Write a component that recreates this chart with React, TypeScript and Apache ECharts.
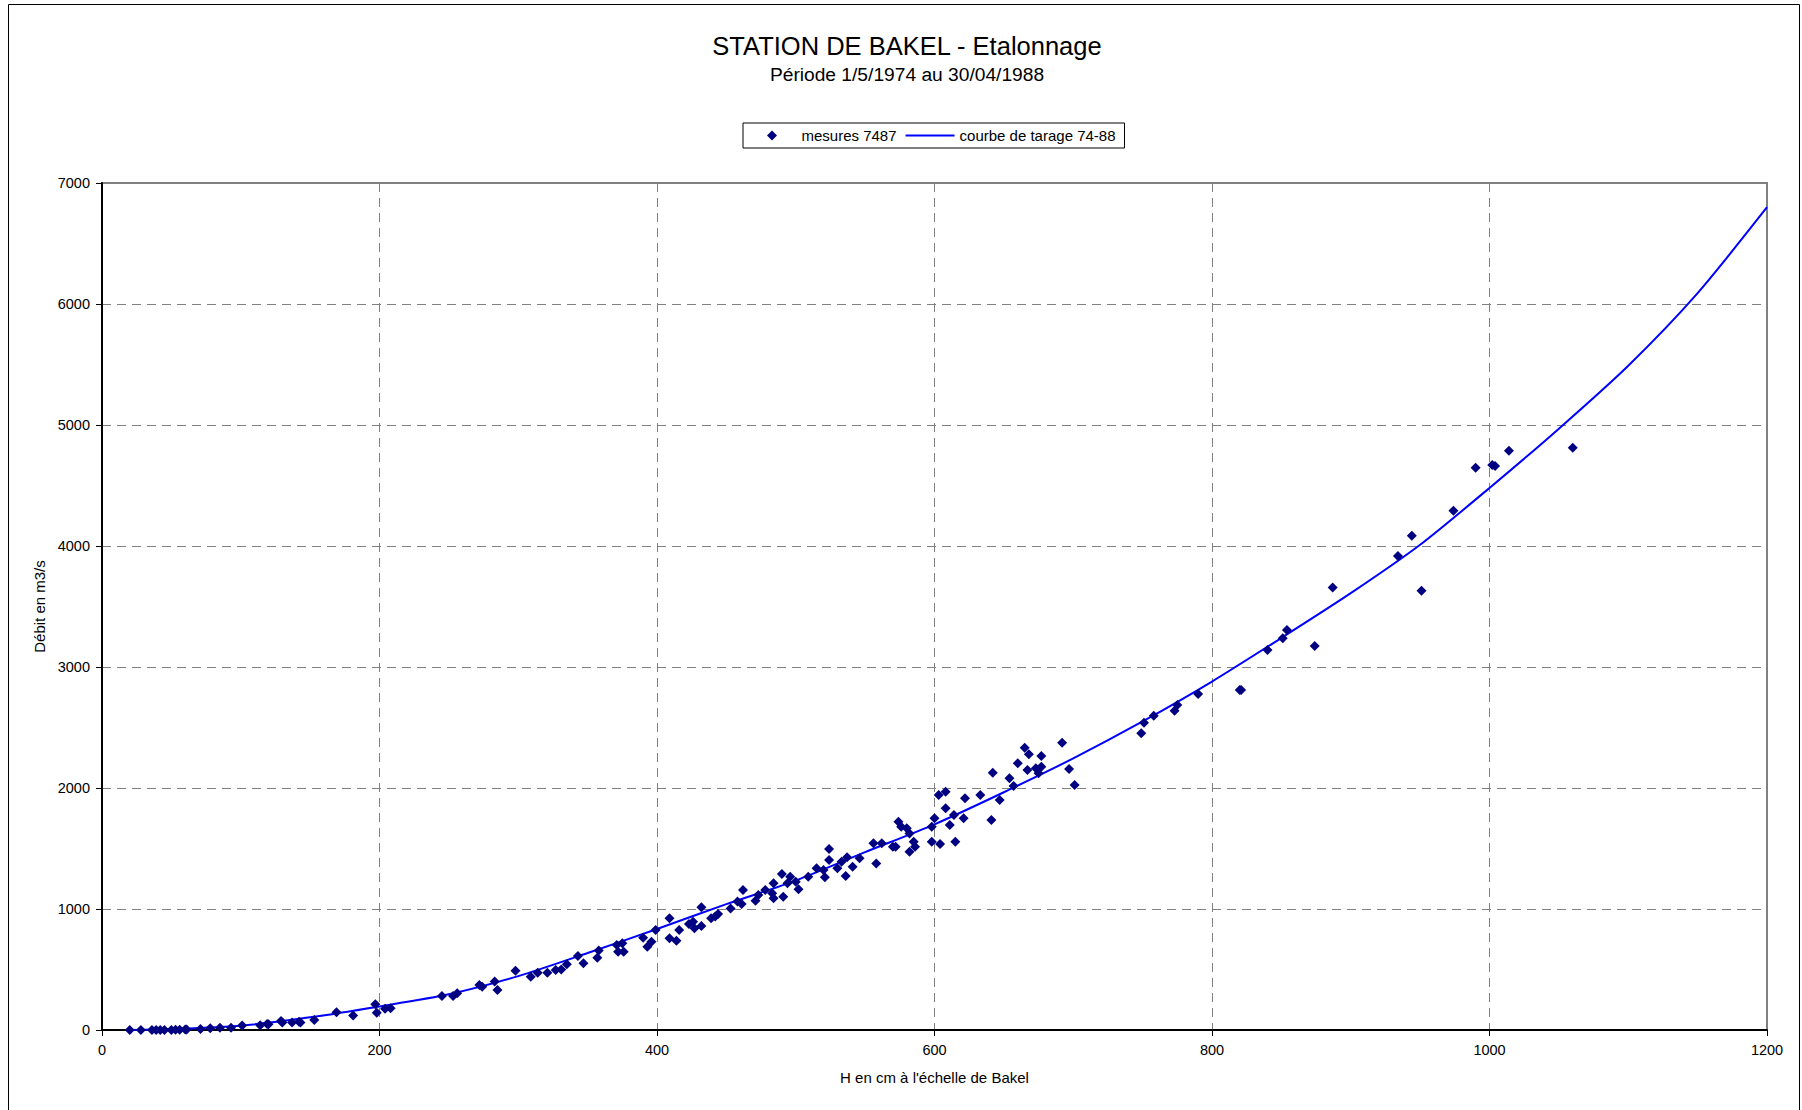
import React, { useEffect, useRef } from "react";
import * as echarts from "echarts";

// Measured gaugings: water level H (cm) and discharge Q (m3/s)
const measureH = [
  20, 28, 36, 39, 42, 45, 50, 53, 56, 60, 61, 71, 78, 85, 93, 101, 114, 119, 120, 129, 130, 137, 142, 143, 153, 169, 181, 197, 198, 204, 208,
  245, 253, 256, 272, 274, 283, 285, 298, 309, 314, 321, 327, 331, 335, 343, 347, 358, 357, 371, 375, 376, 372, 390, 393, 396, 399,
  409, 409, 414, 416, 423, 426, 427, 432, 432, 439, 442, 444, 453, 458, 462, 461, 471, 473, 478, 483, 484, 484, 490, 491, 494, 496,
  500, 502, 509, 515, 521, 520, 524, 524, 530, 533, 537, 536, 541, 546, 556, 562, 558,
  570, 572, 574, 576, 580, 582, 585, 586, 582, 598, 598, 600, 603, 608, 604, 608, 611, 614, 615, 621, 622, 633, 641, 642, 647,
  654, 657, 660, 665, 668, 667, 673, 675, 677, 677, 692, 697, 701,
  749, 751, 758, 773, 775, 790, 820, 821, 840, 851, 854, 874, 887, 934, 944, 951, 974, 990, 1002, 1004, 1014, 1060,
];
const measureQ = [
  0, 0, 0, 0, 0, 0, 0, 2, 3, 4, 4, 8, 14, 19, 19, 38, 40, 50, 48, 74, 62, 61, 69, 63, 83, 146, 120, 212, 143, 175, 180,
  281, 281, 303, 372, 358, 400, 331, 490, 441, 474, 474, 496, 501, 543, 612, 551, 656, 598, 702, 716, 647, 647, 763, 689, 730, 826,
  923, 758, 738, 826, 876, 895, 840, 860, 1014, 923, 937, 959, 1005, 1061, 1157, 1041, 1069, 1116, 1157, 1130, 1212, 1088, 1289, 1102, 1212, 1267,
  1226, 1163, 1267, 1336, 1262, 1322, 1496, 1405, 1336, 1391, 1427, 1273, 1350, 1419, 1543, 1543, 1377,
  1515, 1515, 1722, 1680, 1667, 1625, 1556, 1515, 1474, 1680, 1556, 1749, 1942, 1970, 1537, 1832, 1694, 1777, 1556, 1749, 1915, 1942, 1736, 2127, 1901,
  2080, 2017, 2204, 2333, 2278, 2149, 2163, 2121, 2264, 2176, 2375, 2157, 2025,
  2452, 2540, 2598, 2639, 2686, 2777, 2810, 2810, 3140, 3237, 3306, 3174, 3656, 3917, 4085, 3631, 4292, 4647, 4669, 4661, 4788, 4813,
];

// Rating curve 74-88
const curveH = [20, 50, 100, 150, 200, 250, 300, 350, 400, 450, 500, 550, 600, 650, 700, 750, 800, 850, 900, 950, 1000, 1050, 1100, 1150, 1200];
const curveQ = [0, 8, 36, 105, 195, 295, 445, 636, 835, 1040, 1235, 1470, 1700, 1965, 2245, 2550, 2880, 3240, 3610, 4010, 4480, 4970, 5490, 6090, 6800];

const titleText = "STATION DE BAKEL - Etalonnage";
const subtitleText = "Période 1/5/1974 au 30/04/1988";
const seriesNames = ["mesures 7487", "courbe de tarage 74-88"];
const xName = "H en cm à l'échelle de Bakel";
const yName = "Débit en m3/s";

const FONT = "'Liberation Sans', Arial, sans-serif";

export default function App() {
  const ref = useRef<HTMLDivElement>(null);

  useEffect(() => {
    if (!ref.current) return;
    const chart = echarts.init(ref.current, undefined, { renderer: "svg" });
    const scatterData = measureH.map((h, i) => [h, measureQ[i]]);
    const lineData = curveH.map((h, i) => [h, curveQ[i]]);

    chart.setOption({
      animation: false,
      backgroundColor: "#ffffff",
      textStyle: { fontFamily: FONT, color: "#000" },
      title: {
        text: titleText,
        subtext: subtitleText,
        left: 907,
        top: 32.5,
        textAlign: "center",
        padding: 0,
        itemGap: 6.5,
        textStyle: { fontFamily: FONT, fontSize: 25.5, fontWeight: "normal", color: "#000" },
        subtextStyle: { fontFamily: FONT, fontSize: 19.2, color: "#000" },
      },
      legend: {
        left: 743,
        top: 123,
        orient: "horizontal",
        padding: [5, 9, 5, 24],
        itemGap: 9,
        itemWidth: 49,
        itemHeight: 10,
        symbolKeepAspect: true,
        borderColor: "#000",
        borderWidth: 1,
        borderRadius: 0,
        backgroundColor: "#fff",
        textStyle: { fontFamily: FONT, fontSize: 15, color: "#000" },
        data: [
          { name: seriesNames[0], icon: "path://M5,0 L10,5 L5,10 L0,5 Z", itemStyle: { color: "#000080", opacity: 1 } },
          { name: seriesNames[1], icon: "path://M0,0 L49,0 L49,2 L0,2 Z", itemStyle: { color: "#0000FF", opacity: 1 } },
        ],
      },
      grid: {
        left: 102,
        right: 35,
        top: 183,
        bottom: 80,
        show: true,
        borderColor: "#808080",
        borderWidth: 2,
        backgroundColor: "transparent",
      },
      xAxis: {
        type: "value",
        min: 0,
        max: 1200,
        interval: 200,
        name: xName,
        nameLocation: "middle",
        nameGap: 40,
        nameTextStyle: { fontFamily: FONT, fontSize: 15, color: "#000" },
        axisLine: { show: true, lineStyle: { color: "#000", width: 2 } },
        axisTick: { show: true, inside: false, length: 6, lineStyle: { color: "#000", width: 1 } },
        axisLabel: { margin: 12, fontFamily: FONT, fontSize: 14.5, color: "#000", formatter: (v: number) => String(v) },
        splitLine: { show: true, lineStyle: { color: "#808080", type: [9, 6], width: 1 } },
      },
      yAxis: {
        type: "value",
        min: 0,
        max: 7000,
        interval: 1000,
        name: yName,
        nameLocation: "middle",
        nameGap: 50,
        nameRotate: 90,
        nameTextStyle: { fontFamily: FONT, fontSize: 15, color: "#000" },
        axisLine: { show: true, lineStyle: { color: "#000", width: 2 } },
        axisTick: { show: true, inside: false, length: 6, lineStyle: { color: "#000", width: 1 } },
        axisLabel: { margin: 12, fontFamily: FONT, fontSize: 14.5, color: "#000", formatter: (v: number) => String(v) },
        splitLine: { show: true, lineStyle: { color: "#808080", type: [9, 6], width: 1 } },
      },
      graphic: [
        {
          type: "rect",
          shape: { x: 8.5, y: 4.5, width: 1791, height: 1130 },
          style: { fill: "none", stroke: "#000", lineWidth: 1 },
          silent: true,
          z: -10,
        },
      ],
      series: [
        {
          name: seriesNames[1],
          type: "line",
          data: lineData,
          symbol: "none",
          showSymbol: false,
          smooth: 0.25,
          lineStyle: { color: "#0000FF", width: 2 },
          itemStyle: { color: "#0000FF" },
          z: 2,
        },
        {
          name: seriesNames[0],
          type: "scatter",
          data: scatterData,
          symbol: "diamond",
          symbolSize: 10,
          itemStyle: { color: "#000080", opacity: 1 },
          z: 3,
        },
      ],
    });

    return () => chart.dispose();
  }, []);

  return (
    <div
      ref={ref}
      style={{ position: "absolute", left: 0, top: 0, width: 1802, height: 1110, background: "#fff" }}
    />
  );
}
